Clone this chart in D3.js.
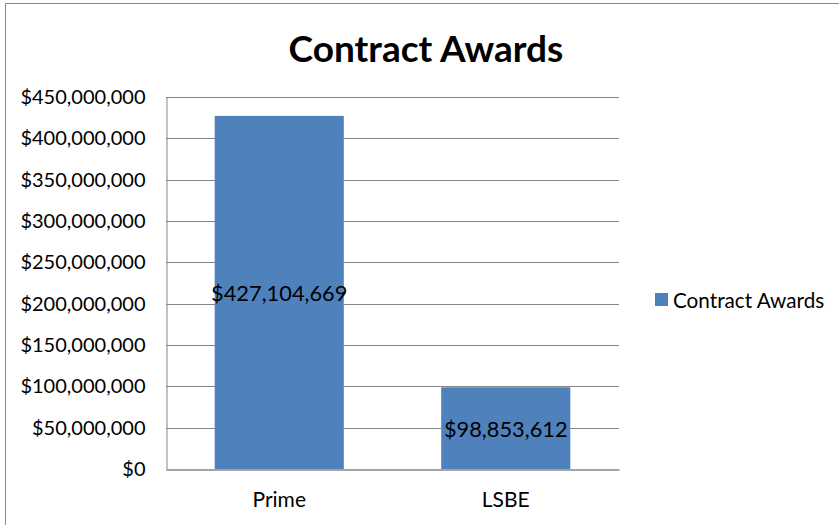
<!DOCTYPE html>
<html><head><meta charset="utf-8">
<script src="https://cdn.jsdelivr.net/npm/d3@7"></script>
<style>
html,body{margin:0;padding:0;background:#fff;}
svg{display:block;}
text{font-family:Lato,"Open Sans",sans-serif;fill:#000;}
</style></head>
<body>
<script>
const categories = ["Prime", "LSBE"];
const values = [427104669, 98853612];
const seriesName = "Contract Awards";
const title = "Contract Awards";
const yTicks = [0, 50000000, 100000000, 150000000, 200000000, 250000000, 300000000, 350000000, 400000000, 450000000];

const W = 839, H = 525;
const svg = d3.select("body").append("svg").attr("width", W).attr("height", H);

// outer border
svg.append("rect").attr("x", 5.5).attr("y", 3.5).attr("width", W + 10).attr("height", H + 10)
  .attr("fill", "#fff").attr("stroke", "#888").attr("stroke-width", 1);

const plot = {left: 166, right: 619, top: 97, bottom: 469};

const x = d3.scaleBand().domain(categories).range([plot.left, plot.right]).paddingInner(0.43).paddingOuter(0.215);
const y = d3.scaleLinear().domain([0, 450000000]).range([plot.bottom, plot.top]);

const fmt = v => "$" + d3.format(",")(v);

// gridlines
svg.append("g").selectAll("line").data(yTicks.filter(t => t > 0)).join("line")
  .attr("x1", plot.left).attr("x2", plot.right)
  .attr("y1", d => Math.round(y(d)) + 0.5).attr("y2", d => Math.round(y(d)) + 0.5)
  .attr("stroke", "#868686").attr("stroke-width", 1);

// y axis
const yAxis = d3.axisLeft(y).tickValues(yTicks).tickFormat(fmt).tickSize(0).tickPadding(21);
const gy = svg.append("g").attr("transform", `translate(${plot.left + 0.5},0)`).call(yAxis);
gy.select(".domain").attr("stroke", "#868686");
gy.selectAll("text").style("font-size", "20px").style("font-family", "Lato");

// bars
svg.append("g").selectAll("rect").data(values).join("rect")
  .attr("x", (d, i) => x(categories[i]))
  .attr("width", x.bandwidth())
  .attr("y", d => y(d))
  .attr("height", d => y(0) - y(d))
  .attr("fill", "#4F81BD");

// x axis
const xAxis = d3.axisBottom(x).tickSize(0).tickPadding(23);
const gx = svg.append("g").attr("transform", `translate(0,${plot.bottom + 0.5})`).call(xAxis);
gx.select(".domain").attr("stroke", "#868686").attr("stroke-width", 1.3);
gx.selectAll("text").style("font-size", "21px").style("font-family", "Lato");

// data labels
svg.append("g").selectAll("text").data(values).join("text")
  .attr("x", (d, i) => x(categories[i]) + x.bandwidth() / 2)
  .attr("y", d => (y(d) + y(0)) / 2)
  .attr("text-anchor", "middle").attr("dominant-baseline", "central")
  .style("font-size", "21.8px")
  .text(fmt);

// title
svg.append("text").attr("x", 426).attr("y", 47)
  .attr("text-anchor", "middle").attr("dominant-baseline", "central")
  .style("font-size", "37px").style("font-weight", "bold").text(title);

// legend
const lg = svg.append("g");
lg.append("rect").attr("x", 655).attr("y", 293).attr("width", 13).attr("height", 13).attr("fill", "#4F81BD");
lg.append("text").attr("x", 673).attr("y", 299.5).attr("dominant-baseline", "central")
  .style("font-size", "20.7px").text(seriesName);
</script>
</body></html>
